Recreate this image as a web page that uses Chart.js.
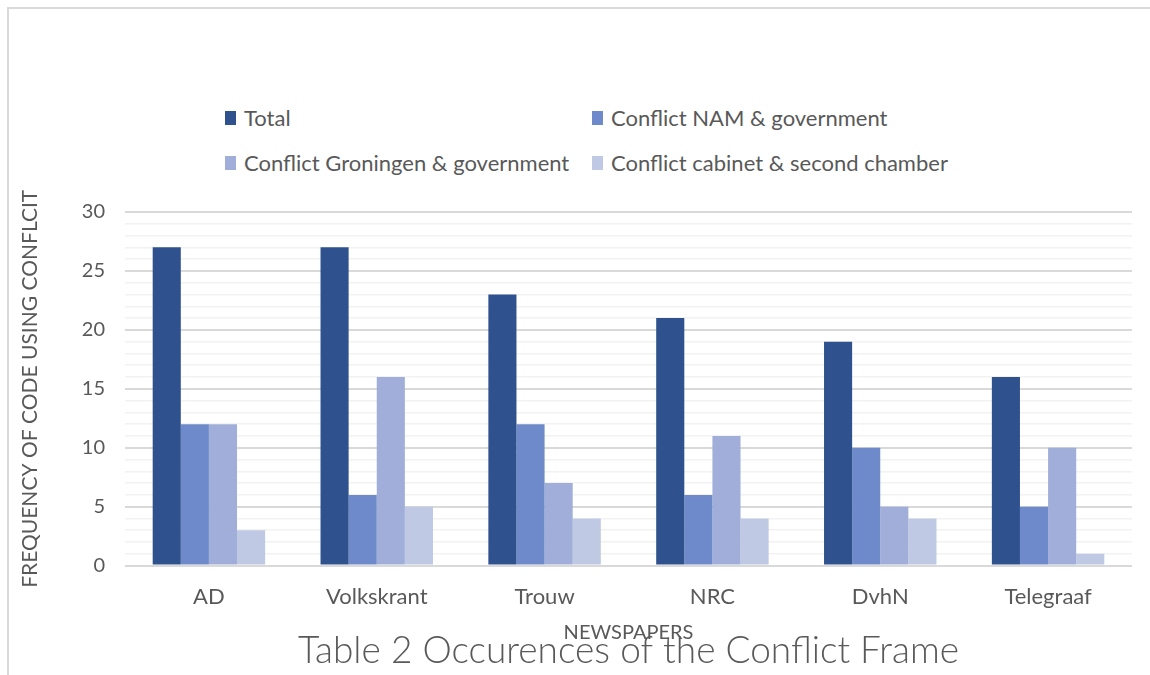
<!DOCTYPE html>
<html>
<head>
<meta charset="utf-8">
<script src="https://cdn.jsdelivr.net/npm/chart.js@4"></script>
<style>
  html, body { margin: 0; padding: 0; background: #fff; }
  #wrap { position: relative; width: 1150px; height: 675px; overflow: hidden; }
  #frame { position: absolute; left: 7px; top: 7px; width: 1200px; height: 700px;
           border-top: 2px solid #d9d9d9; border-left: 2px solid #d9d9d9; box-sizing: border-box; }
  #legend { position: absolute; left: 225px; top: 103px; font-family: Lato, "Liberation Sans", sans-serif;
            font-size: 22px; color: #595959; display: grid; grid-template-columns: 367px 420px; row-gap: 16px; }
  .item { display: flex; align-items: center; height: 29px; white-space: nowrap; }
  .box { width: 11px; height: 14px; margin-right: 8px; display: inline-block; }
  canvas { position: absolute; left: 0; top: 0; }
</style>
</head>
<body>
<div id="wrap">
  <div id="frame"></div>
  <div id="legend"></div>
  <canvas id="c" width="1150" height="675"></canvas>
</div>
<script>
const categories = ["AD", "Volkskrant", "Trouw", "NRC", "DvhN", "Telegraaf"];
const seriesNames = ["Total", "Conflict NAM & government", "Conflict Groningen & government", "Conflict cabinet & second chamber"];
const total = [27, 27, 23, 21, 19, 16];
const namGovernment = [12, 6, 12, 6, 10, 5];
const groningenGovernment = [12, 16, 7, 11, 5, 10];
const cabinetChamber = [3, 5, 4, 4, 4, 1];
const yTickLabels = [0, 5, 10, 15, 20, 25, 30];
const colors = ["#2F528F", "#6F8ACA", "#A0AED9", "#BFC9E4"];
const seriesValues = [total, namGovernment, groningenGovernment, cabinetChamber];

const FONT = "Lato, 'Liberation Sans', sans-serif";
const TXT = "#595959";

const datasets = seriesNames.map((n, i) => ({
  label: n,
  data: seriesValues[i],
  backgroundColor: colors[i],
  borderWidth: 0,
  categoryPercentage: 0.67,
  barPercentage: 1.0
}));

const legend = document.getElementById('legend');
seriesNames.forEach((n, i) => {
  const d = document.createElement('div');
  d.className = 'item';
  d.innerHTML = '<span class="box" style="background:' + colors[i] + '"></span>';
  d.appendChild(document.createTextNode(n));
  legend.appendChild(d);
});

new Chart(document.getElementById('c'), {
  type: 'bar',
  data: { labels: categories, datasets },
  options: {
    responsive: false,
    animation: false,
    devicePixelRatio: 1,
    layout: { padding: { left: 10, right: 18, top: 212, bottom: 0 } },
    plugins: {
      legend: { display: false },
      tooltip: { enabled: false },
      title: {
        display: true,
        position: 'bottom',
        fullSize: false,
        text: 'Table 2 Occurences of the Conflict Frame',
        color: TXT,
        font: { family: FONT, size: 37, weight: '300', lineHeight: 1.2 },
        padding: { top: -18, bottom: 2 }
      }
    },
    scales: {
      x: {
        grid: { display: false, drawTicks: false },
        border: { display: false },
        ticks: { color: TXT, font: { family: FONT, size: 22 }, padding: 18 },
        title: { display: true, text: 'NEWSPAPERS', color: TXT, font: { family: FONT, size: 20 }, padding: { top: 0, bottom: 2 } },
        afterFit: s => { s.height = 81; }
      },
      y: {
        min: 0, max: 30,
        ticks: {
          stepSize: 1, autoSkip: false, color: TXT, font: { family: FONT, size: 20 }, padding: 20,
          callback: v => yTickLabels.includes(v) ? String(v) : ''
        },
        grid: {
          drawTicks: false,
          color: ctx => (ctx.tick && ctx.tick.value % 5 === 0) ? '#d9d9d9' : '#f2f2f2',
          lineWidth: ctx => (ctx.tick && ctx.tick.value % 5 === 0) ? 2 : 1.5
        },
        border: { display: false },
        title: { display: true, text: 'FREQUENCY OF CODE USING CONFLCIT', color: TXT, font: { family: FONT, size: 21 }, padding: { top: 8, bottom: 0 } },
        afterFit: s => { s.width = 115; }
      }
    }
  }
});
</script>
</body>
</html>
